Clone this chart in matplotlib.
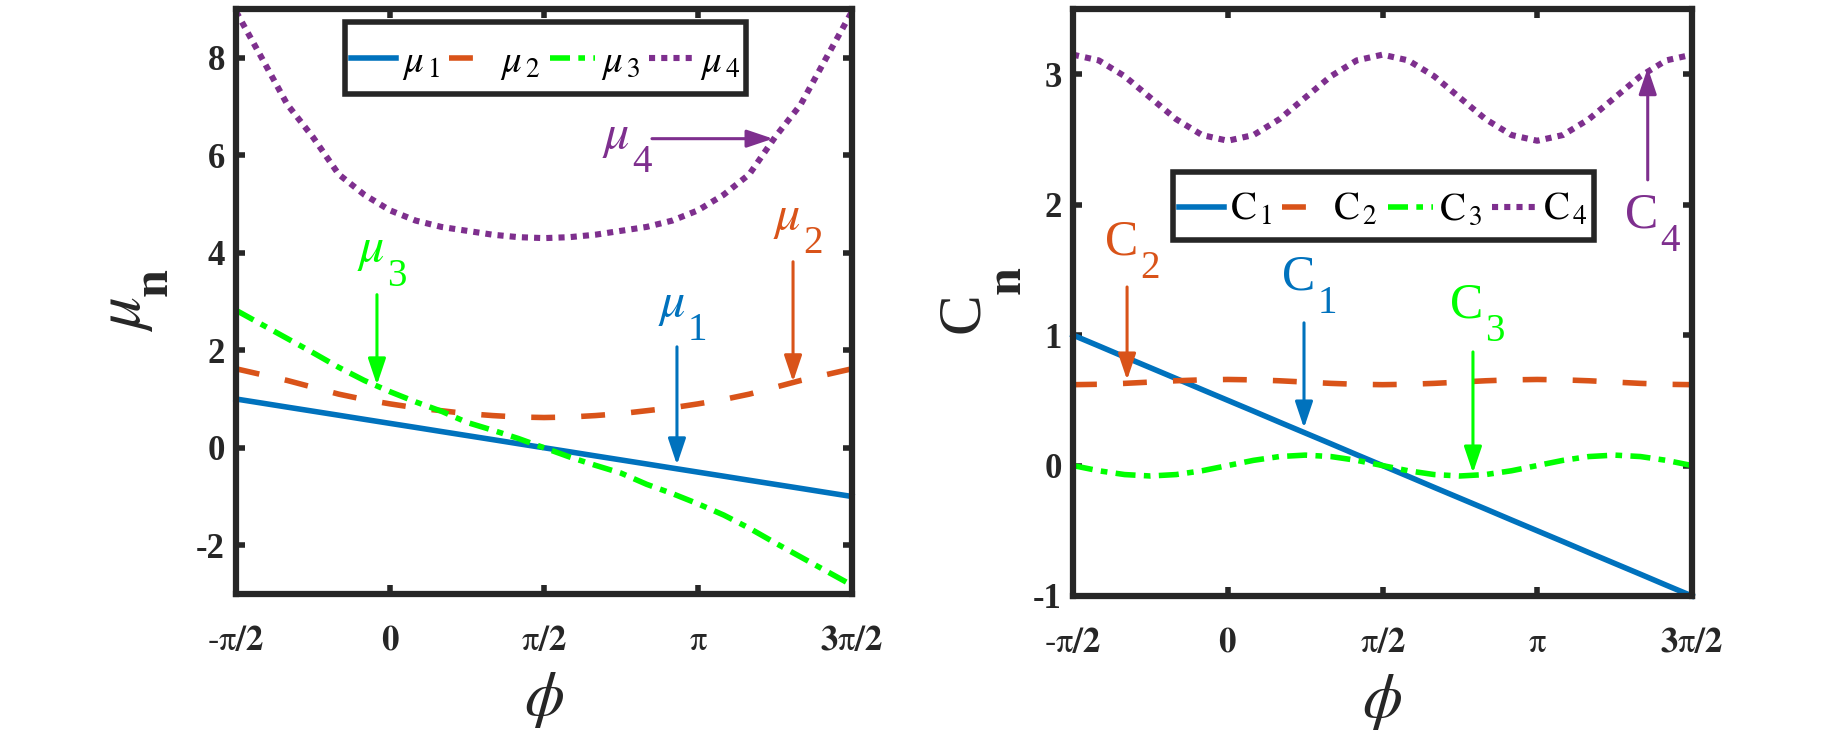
import numpy as np
import matplotlib
matplotlib.use('Agg')
import matplotlib.pyplot as plt
from matplotlib.lines import Line2D
from matplotlib.patches import Rectangle

plt.rcParams['font.family'] = ['Liberation Serif', 'DejaVu Serif']
plt.rcParams['mathtext.fontset'] = 'stix'
plt.rcParams['axes.unicode_minus'] = False

# ---------------- data ----------------
phi = np.linspace(-np.pi / 2, 3 * np.pi / 2, 25)

mu1 = [1.0, 0.917, 0.833, 0.75, 0.667, 0.583, 0.5, 0.417, 0.333, 0.25, 0.167, 0.083, 0.0,
       -0.083, -0.167, -0.25, -0.333, -0.417, -0.5, -0.583, -0.667, -0.75, -0.833, -0.917, -1.0]
mu2 = [1.62, 1.50, 1.38, 1.24, 1.10, 0.99, 0.90, 0.82, 0.76, 0.70, 0.66, 0.63, 0.62,
       0.63, 0.66, 0.70, 0.76, 0.82, 0.90, 0.99, 1.10, 1.24, 1.38, 1.50, 1.62]
mu3 = [2.82, 2.53, 2.24, 1.95, 1.65, 1.38, 1.15, 0.94, 0.75, 0.52, 0.36, 0.19, 0.0,
       -0.19, -0.36, -0.52, -0.75, -0.94, -1.15, -1.38, -1.65, -1.95, -2.24, -2.53, -2.82]
mu4 = [8.95, 8.00, 7.04, 6.37, 5.61, 5.19, 4.87, 4.66, 4.53, 4.45, 4.37, 4.32, 4.30,
       4.32, 4.37, 4.45, 4.53, 4.66, 4.87, 5.19, 5.61, 6.37, 7.04, 8.00, 8.95]

C1 = [1.0, 0.917, 0.833, 0.75, 0.667, 0.583, 0.5, 0.417, 0.333, 0.25, 0.167, 0.083, 0.0,
      -0.083, -0.167, -0.25, -0.333, -0.417, -0.5, -0.583, -0.667, -0.75, -0.833, -0.917, -1.0]
C2 = [0.62, 0.623, 0.63, 0.64, 0.65, 0.657, 0.66, 0.657, 0.65, 0.64, 0.63, 0.623, 0.62,
      0.623, 0.63, 0.64, 0.65, 0.657, 0.66, 0.657, 0.65, 0.64, 0.63, 0.623, 0.62]
C3 = [0.0, -0.04, -0.069, -0.08, -0.069, -0.04, 0.0, 0.04, 0.069, 0.08, 0.069, 0.04, 0.0,
      -0.04, -0.069, -0.08, -0.069, -0.04, 0.0, 0.04, 0.069, 0.08, 0.069, 0.04, 0.0]
C4 = [3.15, 3.106, 2.985, 2.82, 2.655, 2.534, 2.49, 2.534, 2.655, 2.82, 2.985, 3.106, 3.15,
      3.106, 2.985, 2.82, 2.655, 2.534, 2.49, 2.534, 2.655, 2.82, 2.985, 3.106, 3.15]

xtick_vals = [-np.pi / 2, 0, np.pi / 2, np.pi, 3 * np.pi / 2]
xtick_labels = [r'$\mathbf{\text{-}}\mathrm{\pi}\mathbf{/2}$', r'$\mathbf{0}$',
                r'$\mathrm{\pi}\mathbf{/2}$', r'$\mathrm{\pi}$',
                r'$\mathbf{3}\mathrm{\pi}\mathbf{/2}$']
left_yticks = [-2, 0, 2, 4, 6, 8]
right_yticks = [-1, 0, 1, 2, 3]

mu_labels = [r'$\mu_{\,1}$', r'$\mu_{\,2}$', r'$\mu_{\,3}$', r'$\mu_{\,4}$']
C_labels = [r'$\mathrm{C}_{\,1}$', r'$\mathrm{C}_{\,2}$', r'$\mathrm{C}_{\,3}$', r'$\mathrm{C}_{\,4}$']

# ---------------- style ----------------
colors = ['#0072BD', '#D95319', '#00FF00', '#7E2F8E']
styles = ['-', (0, (4.3, 4.7)), (0, (3.6, 1.5, 1.2, 1.5)), (0, (1.0, 1.0))]
widths = [4.0, 4.0, 4.0, 4.4]
AX = '#262626'

W, H = 1848, 734
fig = plt.figure(figsize=(W / 100, H / 100), dpi=100)
axL = fig.add_axes([236 / W, 1 - 594 / H, 616 / W, 585 / H])
axR = fig.add_axes([1073 / W, 1 - 596 / H, 619 / W, 587 / H])


def style_axes(ax, yticks, ylim):
    ax.set_xlim(-np.pi / 2, 3 * np.pi / 2)
    ax.set_ylim(*ylim)
    ax.set_xticks(xtick_vals)
    ax.set_xticklabels(xtick_labels)
    ax.set_yticks(yticks)
    ax.set_yticklabels([str(v) for v in yticks], fontweight='bold')
    ax.tick_params(direction='in', length=6.5, width=4, top=True, right=True,
                   labelsize=25, colors=AX)
    ax.tick_params(axis='x', pad=22)
    ax.tick_params(axis='y', pad=8)
    for s in ax.spines.values():
        s.set_linewidth(4.5)
        s.set_color(AX)


def draw(ax, series):
    for vals, c, ls, lw in zip(series, colors, styles, widths):
        ln, = ax.plot(phi, vals, color=c, lw=lw, linestyle=ls, clip_on=False)
        ln.set_dash_capstyle('butt')


def sub_label(ax, x, y, main, sub, color, size=36, subsize=28):
    t = ax.text(x, y, main, color=color, fontsize=size, ha='left', va='baseline')
    ax.annotate(sub, xy=(1, 0), xycoords=t, xytext=(1.5, -9), textcoords='offset points',
                color=color, fontsize=subsize, ha='left', va='baseline')


def arrow(ax, tail, tip, color):
    ax.annotate('', xy=tip, xytext=tail,
                arrowprops=dict(arrowstyle='-|>,head_length=0.8,head_width=0.27',
                                mutation_scale=20, color=color, lw=2.2,
                                shrinkA=0, shrinkB=0))


def legend(ax, labels, box):
    x0, y0, x1, y1 = box
    ax.add_patch(Rectangle((x0, y0), x1 - x0, y1 - y0, transform=ax.transAxes,
                           facecolor='white', edgecolor=AX, lw=4, zorder=5,
                           clip_on=False))
    handles = [Line2D([], [], color=c, lw=lw, linestyle=ls, dash_capstyle='butt')
               for c, ls, lw in zip(colors, styles, widths)]
    leg = ax.legend(handles, labels, ncol=4, loc='center',
                    bbox_to_anchor=((x0 + x1) / 2, (y0 + y1) / 2 - 0.008),
                    fontsize=28, handlelength=1.16,
                    handletextpad=0.15, columnspacing=0.25,
                    frameon=False, borderpad=0.0, borderaxespad=0)
    leg.set_zorder(6)


# ---------------- left panel ----------------
style_axes(axL, left_yticks, (-3, 9))
draw(axL, [mu1, mu2, mu3, mu4])
legend(axL, mu_labels, (0.1769, 0.8547, 0.8279, 0.9778))

sub_label(axL, 2.162, 6.15, r'$\mu$', '4', colors[3])
arrow(axL, (2.672, 6.34), (3.907, 6.34), colors[3])
sub_label(axL, 3.907, 4.49, r'$\mu$', '2', colors[1])
arrow(axL, (4.111, 3.815), (4.111, 1.354), colors[1])
sub_label(axL, 2.734, 2.71, r'$\mu$', '1', colors[0])
arrow(axL, (2.927, 2.07), (2.927, -0.35), colors[0])
sub_label(axL, -0.337, 3.83, r'$\mu$', '3', colors[2])
arrow(axL, (-0.133, 3.14), (-0.133, 1.29), colors[2])

axL.set_xlabel(r'$\phi$', fontsize=46, color=AX)
axL.xaxis.set_label_coords(0.5, -0.181)
axL.xaxis.label.set_va('center')
axL.text(-0.180, 0.478, r'$\mu$', transform=axL.transAxes, rotation=90,
         fontsize=47, ha='center', va='center', color=AX)
axL.text(-0.132, 0.533, 'n', transform=axL.transAxes, rotation=90, fontweight='bold',
         fontsize=36, ha='center', va='center', color=AX)

# ---------------- right panel ----------------
style_axes(axR, right_yticks, (-1, 3.5))
draw(axR, [C1, C2, C3, C4])
legend(axR, C_labels, (0.1616, 0.6065, 0.8417, 0.7223))

sub_label(axR, 4.032, 1.822, 'C', '4', colors[3])
arrow(axR, (4.263, 2.19), (4.263, 3.05), colors[3])
sub_label(axR, -1.246, 1.615, 'C', '2', colors[1])
arrow(axR, (-1.022, 1.369), (-1.022, 0.656), colors[1])
sub_label(axR, 0.551, 1.347, 'C', '1', colors[0])
arrow(axR, (0.774, 1.094), (0.774, 0.288), colors[0])
sub_label(axR, 2.256, 1.132, 'C', '3', colors[2])
arrow(axR, (2.489, 0.871), (2.489, -0.057), colors[2])

axR.set_xlabel(r'$\phi$', fontsize=46, color=AX)
axR.xaxis.set_label_coords(0.5, -0.181)
axR.xaxis.label.set_va('center')
axR.text(-0.178, 0.482, 'C', transform=axR.transAxes, rotation=90,
         fontsize=44, ha='center', va='center', color=AX)
axR.text(-0.105, 0.538, 'n', transform=axR.transAxes, rotation=90, fontweight='bold',
         fontsize=36, ha='center', va='center', color=AX)

fig.savefig('out.png', dpi=100)
